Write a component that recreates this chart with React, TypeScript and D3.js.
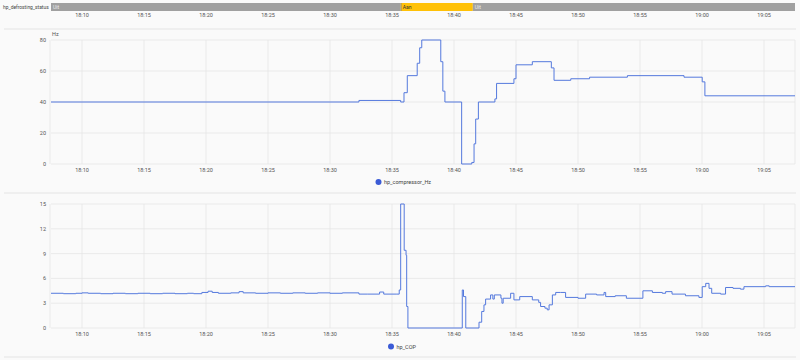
import React from "react";
import * as d3 from "d3";

const statusLabel = "hp_defrosting_status";
const statusStarts = ["18:07:30", "18:35:42", "18:41:31"];
const statusEnds = ["18:35:42", "18:41:31", "19:07:30"];
const statusValues = ["Uit", "Aan", "Uit"];

const hzTimes = ["18:07:30","18:32:20","18:35:42","18:35:58","18:36:14","18:37:02","18:37:14","18:37:24","18:38:56","18:39:06","18:39:16","18:40:37","18:41:26","18:41:37","18:41:45","18:41:58","18:43:18","18:43:26","18:44:50","18:45:00","18:46:19","18:47:51","18:48:04","18:49:25","18:50:56","18:53:59","18:58:33","19:00:01","19:00:14","19:07:30"];
const hzValues = [40,41,40,46,57,65,75,80,66,47,40,0,1,13,29,40,42,52,55,64,66,62,54,55,56,57,56,53,44,44];

const copTimes = ["18:07:30","18:08:30","18:09:30","18:10:00","18:10:30","18:11:30","18:12:30","18:13:30","18:14:30","18:15:30","18:16:30","18:17:30","18:18:30","18:19:00","18:19:40","18:20:10","18:20:30","18:21:00","18:22:00","18:22:40","18:23:00","18:24:00","18:25:00","18:26:00","18:27:00","18:28:00","18:29:00","18:30:00","18:31:00","18:32:20","18:33:00","18:34:00","18:34:20","18:35:20","18:35:35","18:35:42","18:35:59","18:36:08","18:36:11","18:36:17","18:40:40","18:40:46","18:40:57","18:42:01","18:42:14","18:42:25","18:42:33","18:42:57","18:43:08","18:43:15","18:43:47","18:43:52","18:43:58","18:44:34","18:44:50","18:45:18","18:46:19","18:46:50","18:46:59","18:47:20","18:47:31","18:47:40","18:47:56","18:48:12","18:48:35","18:49:00","18:50:00","18:50:37","18:51:30","18:52:06","18:52:14","18:53:00","18:53:54","18:55:14","18:56:00","18:56:48","18:57:04","18:57:35","18:58:40","18:59:45","19:00:01","19:00:18","19:00:34","19:00:47","19:01:30","19:01:54","19:02:30","19:03:06","19:03:23","19:05:08","19:05:25","19:07:30"];
const copValues = [4.2,4.15,4.2,4.25,4.2,4.15,4.2,4.15,4.2,4.15,4.2,4.15,4.2,4.15,4.3,4.45,4.3,4.2,4.25,4.4,4.25,4.2,4.25,4.2,4.25,4.2,4.25,4.2,4.25,4.1,4.1,4.35,4.1,4.1,4.6,15,9.4,8.8,2.6,0,4.6,3.8,0,0.7,2.0,2.8,3.5,4.0,3.5,4.0,3.6,3.0,3.6,4.2,3.4,3.8,3.4,3.1,2.6,2.4,2.2,2.8,4.0,4.3,4.3,3.7,3.6,4.1,4.0,4.3,3.8,3.9,3.6,4.5,4.3,4.2,4.4,4.1,3.9,3.7,5.0,5.4,4.8,4.2,4.1,4.9,4.8,4.7,5.0,5.1,5.0,5.0];

const timeTicks = ["18:10","18:15","18:20","18:25","18:30","18:35","18:40","18:45","18:50","18:55","19:00","19:05"];
const hzTicks = [0, 20, 40, 60, 80];
const copTicks = [0, 3, 6, 9, 12, 15];
const hzName = "hp_compressor_Hz";
const hzUnit = "Hz";
const copName = "hp_COP";

const parse = d3.timeParse("%H:%M:%S");
const parseHM = d3.timeParse("%H:%M");

const W = 800, H = 360;
const X0 = 51, X1 = 795;
const FONT = "Roboto, 'Open Sans', sans-serif";
const LINE = "#5479dd";
const GRID = "#e6e6e6";
const TXT = "#555";

export default function App() {
  const x = d3.scaleTime().domain([parse("18:07:30")!, parse("19:07:30")!]).range([X0, X1]);
  const yHz = d3.scaleLinear().domain([0, 80]).range([164, 40]);
  const yCop = d3.scaleLinear().domain([0, 15]).range([328, 204]);
  const hzData = hzTimes.map((t, i) => ({ t: parse(t)!, v: hzValues[i] }));
  const copData = copTimes.map((t, i) => ({ t: parse(t)!, v: copValues[i] }));
  const hzLine = d3.line<{ t: Date; v: number }>().x(d => x(d.t)).y(d => yHz(d.v)).curve(d3.curveStepAfter);
  const copLine = d3.line<{ t: Date; v: number }>().x(d => x(d.t)).y(d => yCop(d.v)).curve(d3.curveStepAfter);
  const tks = timeTicks.map(s => parseHM(s)!);

  const timeAxis = (y: number, key: string) =>
    tks.map((t, i) => (
      <text key={key + i} x={x(t)} y={y} fontSize={5.5} fill={TXT} textAnchor="middle" fontFamily={FONT}>{timeTicks[i]}</text>
    ));

  const panel = (y: d3.ScaleLinear<number, number>, ticks: number[], key: string) => (
    <g key={key}>
      {ticks.map(v => (
        <line key={"h" + v} x1={X0} x2={X1} y1={y(v)} y2={y(v)} stroke={GRID} strokeWidth={0.8} />
      ))}
      {tks.map((t, i) => (
        <line key={"v" + i} x1={x(t)} x2={x(t)} y1={y.range()[1]} y2={y.range()[0]} stroke={GRID} strokeWidth={0.8} />
      ))}
      <line x1={X0 - 1} x2={X0 - 1} y1={y.range()[1]} y2={y.range()[0]} stroke={GRID} strokeWidth={0.8} />
      <line x1={X1} x2={X1} y1={y.range()[1]} y2={y.range()[0]} stroke={GRID} strokeWidth={0.8} />
      {ticks.map(v => (
        <text key={"t" + v} x={X0 - 5} y={y(v) + 2} fontSize={5.5} fill={TXT} textAnchor="end" fontFamily={FONT}>{v}</text>
      ))}
    </g>
  );

  return (
    <svg width={W} height={H} style={{ position: "absolute", left: 0, top: 0, background: "#fafafa" }}>
      <rect width={W} height={H} fill="#fafafa" />
      {/* status timeline */}
      <text x={3} y={9} fontSize={4.9} fill="#444" fontFamily={FONT}>{statusLabel}</text>
      {statusValues.map((s, i) => {
        const a = x(parse(statusStarts[i])!), b = x(parse(statusEnds[i])!);
        const on = s === "Aan";
        return (
          <g key={"s" + i}>
            <rect x={a} y={3} width={b - a} height={8} fill={on ? "#ffc107" : "#a0a0a0"} />
            {on && <rect x={a} y={3} width={0.8} height={8} fill="#8a8a8a" />}
            <text x={a + 2} y={9} fontSize={5} fill={on ? "#333" : "#eee"} fontFamily={FONT}>{s}</text>
          </g>
        );
      })}
      {timeAxis(17, "ta")}
      <line x1={4} x2={W - 4} y1={29} y2={29} stroke="#e4e4e4" strokeWidth={1} />

      {/* Hz chart */}
      {panel(yHz, hzTicks, "p1")}
      <text x={X0 + 1} y={36} fontSize={5.5} fill={TXT} fontFamily={FONT}>{hzUnit}</text>
      <path d={hzLine(hzData) || ""} fill="none" stroke={LINE} strokeWidth={1} />
      {timeAxis(172, "tb")}
      <circle cx={378.5} cy={182} r={3} fill="#3b5bd6" />
      <text x={384} y={184} fontSize={5.5} fill="#444" fontFamily={FONT}>{hzName}</text>
      <line x1={4} x2={W - 4} y1={193} y2={193} stroke="#e4e4e4" strokeWidth={1} />

      {/* COP chart */}
      {panel(yCop, copTicks, "p2")}
      <path d={copLine(copData) || ""} fill="none" stroke={LINE} strokeWidth={1} />
      {timeAxis(336, "tc")}
      <circle cx={391} cy={346.5} r={3} fill="#3b5bd6" />
      <text x={396.5} y={348.5} fontSize={5.5} fill="#444" fontFamily={FONT}>{copName}</text>
      <line x1={4} x2={W - 4} y1={357} y2={357} stroke="#e4e4e4" strokeWidth={1} />
    </svg>
  );
}
